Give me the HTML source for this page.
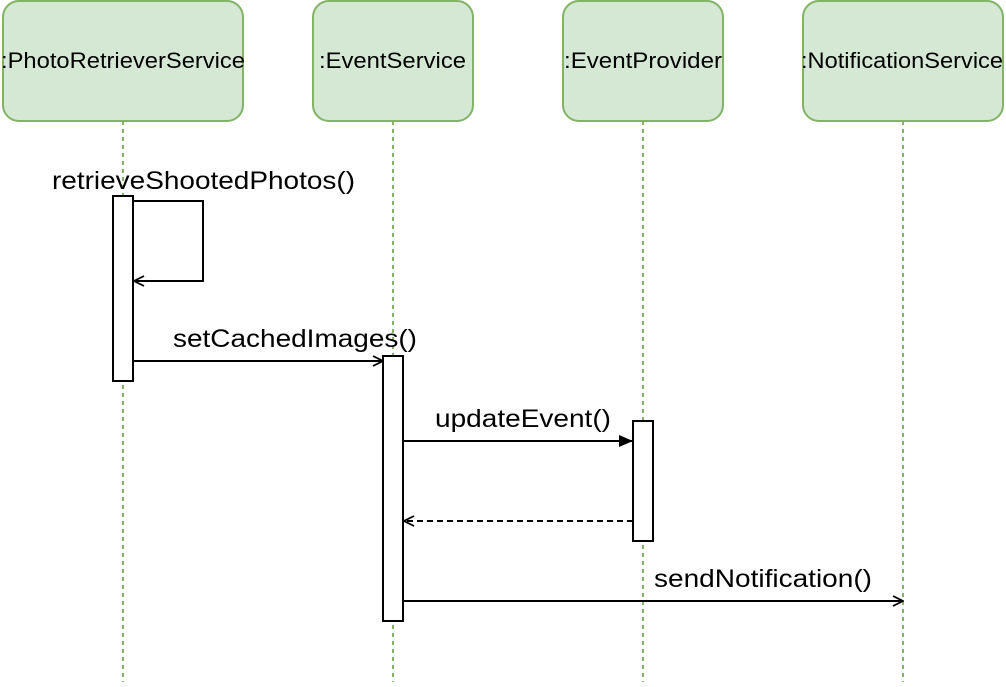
<!DOCTYPE html>
<html><head><style>
html,body{margin:0;padding:0;background:#fff;}
</style></head><body>
<svg width="1006" height="682" xmlns="http://www.w3.org/2000/svg" font-family="Liberation Sans, sans-serif">
<defs>
<marker id="open" markerWidth="12" markerHeight="12" refX="11" refY="6" orient="auto" markerUnits="userSpaceOnUse"><path d="M1,1 L11,6 L1,11" fill="none" stroke="#000" stroke-width="1.8"/></marker>
<marker id="fill" markerWidth="16" markerHeight="14" refX="15" refY="7" orient="auto" markerUnits="userSpaceOnUse"><path d="M1,1 L15,7 L1,13 Z" fill="#000"/></marker>
</defs>
<g stroke="#82b366" stroke-width="2" stroke-dasharray="4,4">
<line x1="123" y1="121" x2="123" y2="682"/>
<line x1="393" y1="121" x2="393" y2="682"/>
<line x1="643" y1="121" x2="643" y2="682"/>
<line x1="903" y1="121" x2="903" y2="682"/>
</g>
<g fill="#d5e8d4" stroke="#82b366" stroke-width="2">
<rect x="3" y="1" width="240" height="120" rx="16"/>
<rect x="313" y="1" width="160" height="120" rx="16"/>
<rect x="563" y="1" width="160" height="120" rx="16"/>
<rect x="803" y="1" width="200" height="120" rx="16"/>
</g>
<g font-size="22" fill="#000">
<text x="1" y="68" textLength="244" lengthAdjust="spacingAndGlyphs">:PhotoRetrieverService</text>
<text x="319" y="68" textLength="147" lengthAdjust="spacingAndGlyphs">:EventService</text>
<text x="564" y="68" textLength="158" lengthAdjust="spacingAndGlyphs">:EventProvider</text>
<text x="801" y="68" textLength="202" lengthAdjust="spacingAndGlyphs">:NotificationService</text>
</g>
<g fill="#fff" stroke="#000" stroke-width="2">
<rect x="113" y="196" width="20" height="185"/>
<rect x="383" y="356" width="20" height="265"/>
<rect x="633" y="421" width="20" height="120"/>
</g>
<g stroke="#000" stroke-width="2" fill="none">
<path d="M133,201 H203 V281 H134" marker-end="url(#open)"/>
<line x1="133" y1="361" x2="383" y2="361" marker-end="url(#open)"/>
<line x1="403" y1="441" x2="633" y2="441" marker-end="url(#fill)"/>
<line x1="633" y1="521" x2="404" y2="521" stroke-dasharray="6,4" marker-end="url(#open)"/>
<line x1="403" y1="601" x2="903" y2="601" marker-end="url(#open)"/>
</g>
<g font-size="25" fill="#000">
<text x="52" y="189" textLength="303" lengthAdjust="spacingAndGlyphs">retrieveShootedPhotos()</text>
<text x="173" y="347" textLength="244" lengthAdjust="spacingAndGlyphs">setCachedImages()</text>
<text x="435" y="427" textLength="176" lengthAdjust="spacingAndGlyphs">updateEvent()</text>
<text x="654" y="587" textLength="218" lengthAdjust="spacingAndGlyphs">sendNotification()</text>
</g>
</svg>
</body></html>
